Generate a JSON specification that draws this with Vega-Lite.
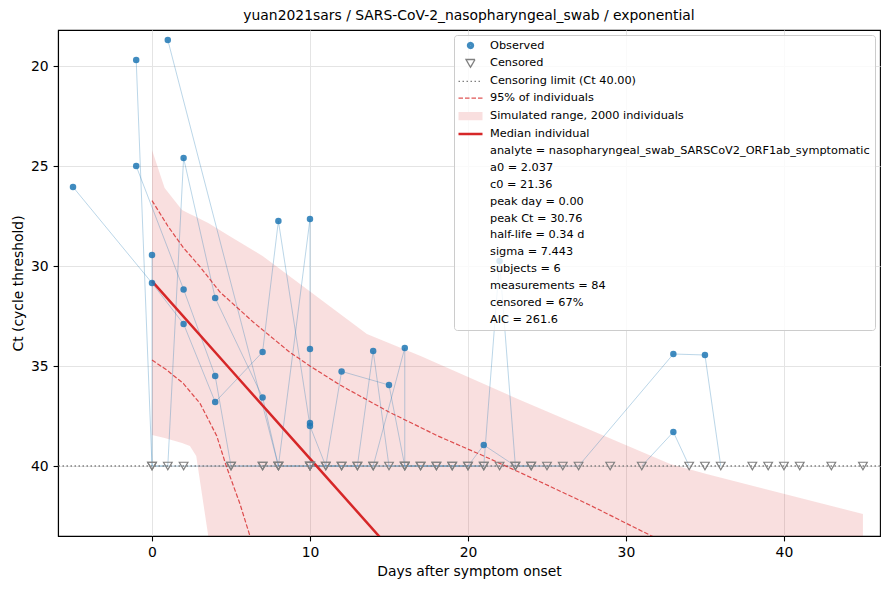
{
  "$schema": "https://vega.github.io/schema/vega-lite/v6.json",
  "width": 822,
  "height": 506,
  "autosize": {"type": "none"},
  "padding": {"left": 58, "top": 30, "right": 10, "bottom": 54},
  "background": "white",
  "title": {
    "text": "yuan2021sars / SARS-CoV-2_nasopharyngeal_swab / exponential",
    "font": "DejaVu Sans",
    "fontSize": 13.9,
    "fontWeight": "normal",
    "color": "#000000",
    "anchor": "middle",
    "offset": 7
  },
  "config": {
    "view": {"stroke": "#000000", "strokeWidth": 1.1},
    "axis": {
      "labelFont": "DejaVu Sans",
      "labelFontSize": 13.9,
      "titleFont": "DejaVu Sans",
      "titleFontSize": 13.9,
      "titleFontWeight": "normal",
      "labelColor": "#000000",
      "titleColor": "#000000",
      "domainColor": "#000000",
      "domainWidth": 1.1,
      "tickColor": "#000000",
      "tickSize": 4.9,
      "tickWidth": 1.1,
      "gridColor": "#e4e4e4",
      "gridWidth": 1,
      "labelPadding": 4.9,
      "titlePadding": 5,
      "labelFlush": false
    }
  },
  "datasets": {
    "meas": [
      {"s": 1, "day": -5, "ct": 26.05, "cens": false},
      {"s": 1, "day": 0, "ct": 30.85, "cens": false},
      {"s": 1, "day": 2, "ct": 32.9, "cens": false},
      {"s": 1, "day": 4, "ct": 36.8, "cens": false},
      {"s": 1, "day": 7, "ct": 34.3, "cens": false},
      {"s": 1, "day": 8, "ct": 27.75, "cens": false},
      {"s": 1, "day": 10, "ct": 38.0, "cens": false},
      {"s": 1, "day": 11, "ct": 40, "cens": true},
      {"s": 1, "day": 12, "ct": 35.27, "cens": false},
      {"s": 1, "day": 15, "ct": 35.95, "cens": false},
      {"s": 1, "day": 16, "ct": 40, "cens": true},
      {"s": 1, "day": 18, "ct": 40, "cens": true},
      {"s": 1, "day": 20, "ct": 40, "cens": true},
      {"s": 1, "day": 21, "ct": 38.95, "cens": false},
      {"s": 1, "day": 23, "ct": 40, "cens": true},
      {"s": 1, "day": 25, "ct": 40, "cens": true},
      {"s": 1, "day": 27, "ct": 40, "cens": true},
      {"s": 1, "day": 33, "ct": 34.4, "cens": false},
      {"s": 1, "day": 35, "ct": 34.45, "cens": false},
      {"s": 1, "day": 36, "ct": 40, "cens": true},
      {"s": 1, "day": 39, "ct": 40, "cens": true, "link": false},
      {"s": 1, "day": 43, "ct": 40, "cens": true, "link": false},
      {"s": 2, "day": -1, "ct": 19.7, "cens": false},
      {"s": 2, "day": 0, "ct": 40, "cens": true},
      {"s": 2, "day": 1, "ct": 40, "cens": true},
      {"s": 2, "day": 2, "ct": 24.6, "cens": false},
      {"s": 2, "day": 4, "ct": 31.6, "cens": false},
      {"s": 2, "day": 7, "ct": 36.57, "cens": false},
      {"s": 2, "day": 8, "ct": 40, "cens": true},
      {"s": 2, "day": 10, "ct": 40, "cens": true},
      {"s": 2, "day": 12, "ct": 40, "cens": true},
      {"s": 2, "day": 13, "ct": 40, "cens": true},
      {"s": 2, "day": 14, "ct": 34.25, "cens": false},
      {"s": 2, "day": 15, "ct": 40, "cens": true},
      {"s": 2, "day": 17, "ct": 40, "cens": true},
      {"s": 2, "day": 19, "ct": 40, "cens": true},
      {"s": 2, "day": 21, "ct": 40, "cens": true},
      {"s": 2, "day": 22, "ct": 29.75, "cens": false},
      {"s": 2, "day": 23, "ct": 40, "cens": true},
      {"s": 2, "day": 24, "ct": 40, "cens": true},
      {"s": 2, "day": 26, "ct": 40, "cens": true},
      {"s": 2, "day": 29, "ct": 40, "cens": true, "link": false},
      {"s": 2, "day": 38, "ct": 40, "cens": true, "link": false},
      {"s": 2, "day": 40, "ct": 40, "cens": true, "link": false},
      {"s": 2, "day": 45, "ct": 40, "cens": true, "link": false},
      {"s": 3, "day": -1, "ct": 25.0, "cens": false},
      {"s": 3, "day": 2, "ct": 31.17, "cens": false},
      {"s": 3, "day": 4, "ct": 35.5, "cens": false},
      {"s": 3, "day": 5, "ct": 40, "cens": true},
      {"s": 3, "day": 7, "ct": 40, "cens": true},
      {"s": 3, "day": 8, "ct": 40, "cens": true},
      {"s": 3, "day": 10, "ct": 27.65, "cens": false},
      {"s": 3, "day": 10, "ct": 34.15, "cens": false},
      {"s": 3, "day": 10, "ct": 37.85, "cens": false},
      {"s": 3, "day": 10, "ct": 40, "cens": true},
      {"s": 3, "day": 11, "ct": 40, "cens": true},
      {"s": 3, "day": 13, "ct": 40, "cens": true},
      {"s": 3, "day": 14, "ct": 40, "cens": true},
      {"s": 3, "day": 16, "ct": 34.1, "cens": false},
      {"s": 3, "day": 16, "ct": 40, "cens": true},
      {"s": 3, "day": 17, "ct": 40, "cens": true},
      {"s": 3, "day": 18, "ct": 40, "cens": true},
      {"s": 3, "day": 20, "ct": 40, "cens": true},
      {"s": 3, "day": 22, "ct": 40, "cens": true},
      {"s": 3, "day": 24, "ct": 40, "cens": true},
      {"s": 4, "day": 0, "ct": 29.45, "cens": false},
      {"s": 4, "day": 0, "ct": 40, "cens": true},
      {"s": 4, "day": 2, "ct": 40, "cens": true},
      {"s": 4, "day": 5, "ct": 40, "cens": true},
      {"s": 4, "day": 7, "ct": 40, "cens": true},
      {"s": 4, "day": 10, "ct": 40, "cens": true},
      {"s": 4, "day": 12, "ct": 40, "cens": true},
      {"s": 4, "day": 14, "ct": 40, "cens": true},
      {"s": 4, "day": 19, "ct": 40, "cens": true},
      {"s": 4, "day": 21, "ct": 40, "cens": true},
      {"s": 5, "day": 1, "ct": 18.7, "cens": false},
      {"s": 5, "day": 8, "ct": 40, "cens": true},
      {"s": 5, "day": 10, "ct": 40, "cens": true},
      {"s": 5, "day": 16, "ct": 40, "cens": true},
      {"s": 5, "day": 35, "ct": 40, "cens": true, "link": false},
      {"s": 5, "day": 41, "ct": 40, "cens": true, "link": false},
      {"s": 6, "day": 31, "ct": 40, "cens": true},
      {"s": 6, "day": 33, "ct": 38.3, "cens": false},
      {"s": 6, "day": 34, "ct": 40, "cens": true}
    ],
    "band": [
      {"day": 0, "ctLow": 24.2, "ctHigh": 38.45},
      {"day": 0.8, "ctLow": 26.1, "ctHigh": 38.6},
      {"day": 1.9, "ctLow": 27.2, "ctHigh": 38.85},
      {"day": 2.4, "ctLow": 27.4, "ctHigh": 39.0},
      {"day": 2.8, "ctLow": 27.55, "ctHigh": 39.5},
      {"day": 3.56, "ctLow": 27.85, "ctHigh": 43.5},
      {"day": 4.9, "ctLow": 28.5, "ctHigh": 50},
      {"day": 7.0, "ctLow": 29.5, "ctHigh": 60},
      {"day": 13.6, "ctLow": 33.4, "ctHigh": 60},
      {"day": 17, "ctLow": 34.5, "ctHigh": 60},
      {"day": 23.3, "ctLow": 36.7, "ctHigh": 60},
      {"day": 32.8, "ctLow": 39.9, "ctHigh": 60},
      {"day": 35.1, "ctLow": 40.4, "ctHigh": 60},
      {"day": 45, "ctLow": 42.4, "ctHigh": 60}
    ],
    "quant": [
      {"q": "upper", "day": 0, "ct": 26.73},
      {"q": "upper", "day": 1, "ct": 28.0},
      {"q": "upper", "day": 2, "ct": 29.1},
      {"q": "upper", "day": 3, "ct": 30.0},
      {"q": "upper", "day": 4.3, "ct": 31.3},
      {"q": "upper", "day": 6.4, "ct": 32.8},
      {"q": "upper", "day": 8.7, "ct": 34.3},
      {"q": "upper", "day": 10, "ct": 35.0},
      {"q": "upper", "day": 11.9, "ct": 35.95},
      {"q": "upper", "day": 15, "ct": 37.3},
      {"q": "upper", "day": 18.1, "ct": 38.5},
      {"q": "upper", "day": 21, "ct": 39.5},
      {"q": "upper", "day": 24.6, "ct": 40.8},
      {"q": "upper", "day": 27.7, "ct": 41.95},
      {"q": "upper", "day": 31.5, "ct": 43.45},
      {"q": "upper", "day": 33, "ct": 44.0},
      {"q": "lower", "day": 0, "ct": 34.7},
      {"q": "lower", "day": 0.93, "ct": 35.2},
      {"q": "lower", "day": 1.98, "ct": 35.87},
      {"q": "lower", "day": 3.04, "ct": 36.87},
      {"q": "lower", "day": 4.1, "ct": 38.5},
      {"q": "lower", "day": 4.7, "ct": 40.0},
      {"q": "lower", "day": 5.57, "ct": 41.9},
      {"q": "lower", "day": 6.2, "ct": 43.5},
      {"q": "lower", "day": 6.5, "ct": 44.3}
    ],
    "median": [
      {"day": 0, "ct": 30.76},
      {"day": 5, "ct": 35.2},
      {"day": 10, "ct": 39.63},
      {"day": 15, "ct": 44.07}
    ],
    "limit": [{"ct": 40}],
    "legend": [
      {"item": "Observed"},
      {"item": "Censored"},
      {"item": "Censoring limit (Ct 40.00)"},
      {"item": "95% of individuals"},
      {"item": "Simulated range, 2000 individuals"},
      {"item": "Median individual"},
      {"item": "analyte = nasopharyngeal_swab_SARSCoV2_ORF1ab_symptomatic"},
      {"item": "a0 = 2.037"},
      {"item": "c0 = 21.36"},
      {"item": "peak day = 0.00"},
      {"item": "peak Ct = 30.76"},
      {"item": "half-life = 0.34 d"},
      {"item": "sigma = 7.443"},
      {"item": "subjects = 6"},
      {"item": "measurements = 84"},
      {"item": "censored = 67%"},
      {"item": "AIC = 261.6"}
    ]
  },
  "layer": [
    {
      "data": {"name": "band"},
      "mark": {"type": "area", "color": "#d62728", "opacity": 0.15, "clip": true},
      "encoding": {
        "x": {
          "field": "day",
          "type": "quantitative",
          "scale": {"domain": [-5.95, 46.08], "nice": false, "zero": false},
          "axis": {"values": [0, 10, 20, 30, 40], "title": "Days after symptom onset", "grid": true}
        },
        "y": {
          "field": "ctLow",
          "type": "quantitative",
          "scale": {"domain": [18.2, 43.5], "reverse": true, "nice": false, "zero": false},
          "axis": {"values": [20, 25, 30, 35, 40], "title": "Ct (cycle threshold)", "grid": true}
        },
        "y2": {"field": "ctHigh"}
      }
    },
    {
      "data": {"name": "meas"},
      "transform": [{"filter": "datum.link !== false"}],
      "mark": {"type": "line", "color": "#1f77b4", "opacity": 0.3, "strokeWidth": 1},
      "encoding": {
        "x": {"field": "day", "type": "quantitative"},
        "y": {"field": "ct", "type": "quantitative"},
        "detail": {"field": "s", "type": "nominal"}
      }
    },
    {
      "data": {"name": "limit"},
      "mark": {"type": "rule", "color": "#808080", "strokeWidth": 1.5, "strokeDash": [1.5, 2.5]},
      "encoding": {"y": {"field": "ct", "type": "quantitative"}}
    },
    {
      "data": {"name": "quant"},
      "mark": {"type": "line", "color": "#d62728", "opacity": 0.8, "strokeWidth": 1.2, "strokeDash": [4.5, 2], "clip": true},
      "encoding": {
        "x": {"field": "day", "type": "quantitative"},
        "y": {"field": "ct", "type": "quantitative"},
        "detail": {"field": "q", "type": "nominal"}
      }
    },
    {
      "data": {"name": "median"},
      "mark": {"type": "line", "color": "#d62728", "strokeWidth": 2.5, "clip": true},
      "encoding": {
        "x": {"field": "day", "type": "quantitative"},
        "y": {"field": "ct", "type": "quantitative"}
      }
    },
    {
      "data": {"name": "meas"},
      "transform": [{"filter": "datum.cens === false"}],
      "mark": {"type": "point", "shape": "circle", "filled": true, "color": "#1f77b4", "opacity": 0.85, "size": 42},
      "encoding": {
        "x": {"field": "day", "type": "quantitative"},
        "y": {"field": "ct", "type": "quantitative"}
      }
    },
    {
      "data": {"name": "meas"},
      "transform": [{"filter": "datum.cens === true"}],
      "mark": {"type": "point", "shape": "triangle-down", "filled": false, "stroke": "#808080", "strokeWidth": 1.2, "opacity": 1, "size": 75},
      "encoding": {
        "x": {"field": "day", "type": "quantitative"},
        "y": {"field": "ct", "type": "quantitative"}
      }
    },
    {
      "data": {"name": "legend"},
      "mark": {"type": "point", "opacity": 0, "filled": false},
      "encoding": {
        "color": {
          "field": "item",
          "type": "nominal",
          "sort": null,
          "scale": {"range": ["rgba(31,119,180,0.85)", "#808080", "#808080", "#e05555", "#f9dfdf", "#d62728", "transparent", "transparent", "transparent", "transparent", "transparent", "transparent", "transparent", "transparent", "transparent", "transparent", "transparent"]},
          "legend": {
            "title": null,
            "orient": "top-right",
            "offset": 5,
            "padding": 4.5,
            "fillColor": "rgba(255,255,255,0.8)",
            "strokeColor": "#cccccc",
            "cornerRadius": 3,
            "labelFont": "DejaVu Sans",
            "labelFontSize": 11.3,
            "labelColor": "#000000",
            "labelLimit": 600,
            "symbolSize": 100,
            "symbolStrokeWidth": 1.3,
            "symbolFillColor": "transparent",
            "symbolOpacity": 1,
            "symbolOffset": 6,
            "labelOffset": 13.5,
            "rowPadding": 4.9
          }
        },
        "shape": {
          "field": "item",
          "type": "nominal",
          "sort": null,
          "scale": {"range": [
            "M-0.08,0A0.08,0.08,0,1,0,0.08,0A0.08,0.08,0,1,0,-0.08,0ZM-0.21,0A0.21,0.21,0,1,0,0.21,0A0.21,0.21,0,1,0,-0.21,0ZM-0.34,0A0.34,0.34,0,1,0,0.34,0A0.34,0.34,0,1,0,-0.34,0ZM-0.47,0A0.47,0.47,0,1,0,0.47,0A0.47,0.47,0,1,0,-0.47,0ZM-0.6,0A0.6,0.6,0,1,0,0.6,0A0.6,0.6,0,1,0,-0.6,0Z",
            "M-0.9,-0.78L0.9,-0.78L0,0.78Z",
            "M-2.4,0L2.4,0",
            "M-2.4,0L2.4,0",
            "M-2.4,-0.7L2.4,-0.7M-2.4,-0.5L2.4,-0.5M-2.4,-0.3L2.4,-0.3M-2.4,-0.1L2.4,-0.1M-2.4,0.1L2.4,0.1M-2.4,0.3L2.4,0.3M-2.4,0.5L2.4,0.5M-2.4,0.7L2.4,0.7",
            "M-2.4,-0.12L2.4,-0.12M-2.4,0.12L2.4,0.12",
            "M0,0", "M0,0", "M0,0", "M0,0", "M0,0", "M0,0", "M0,0", "M0,0", "M0,0", "M0,0", "M0,0"
          ]}
        },
        "strokeDash": {
          "field": "item",
          "type": "nominal",
          "sort": null,
          "scale": {"range": [[1, 0], [1, 0], [1.5, 2.5], [4.5, 2], [1, 0], [1, 0], [1, 0], [1, 0], [1, 0], [1, 0], [1, 0], [1, 0], [1, 0], [1, 0], [1, 0], [1, 0], [1, 0]]}
        }
      }
    }
  ]
}
